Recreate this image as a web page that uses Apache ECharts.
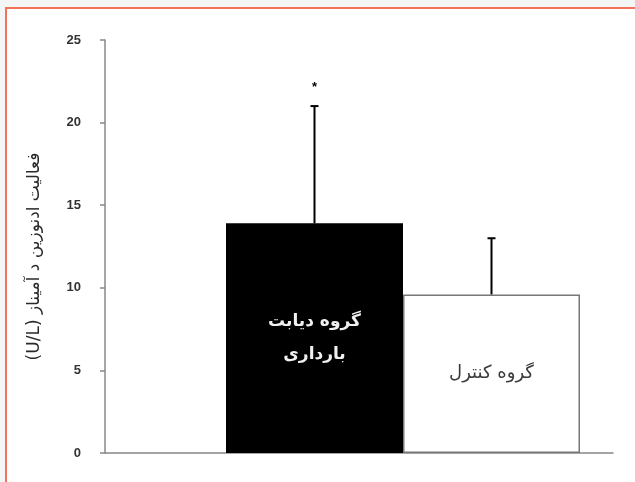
<!DOCTYPE html>
<html>
<head>
<meta charset="utf-8">
<script src="https://cdn.jsdelivr.net/npm/echarts@6/dist/echarts.min.js"></script>
<style>
  body { margin: 0; background: #f4f5f5; }
  #frame { position: absolute; left: 5px; top: 7px; width: 630px; height: 475px;
           background: #fff; border-left: 2px solid #f4715a; border-top: 2px solid #f4715a; z-index: 0; }
  #chart { position: absolute; left: 0; top: 0; width: 635px; height: 482px; z-index: 1; }
</style>
</head>
<body>
<div id="frame"></div>
<div id="chart"></div>
<script>
//داده‌ها
var groups = ['گروه دیابت\nبارداری', 'گروه کنترل'];
var means = [13.9, 9.6];
var sds = [7.1, 3.4];
var sig = ['*', ''];
var yTicks = [0, 5, 10, 15, 20, 25];

var myChart = echarts.init(document.getElementById('chart'));

var fillColors = ['#000', '#fff'];
var labelColors = ['#f0f0f0', '#3a3a3a'];
var labelWeights = ['bold', 'normal'];
var labelSizes = [17, 18];

var barSeries = groups.map(function(name, i){
    return {
        name: name,
        type: 'bar',
        xAxisIndex: 1,
        yAxisIndex: 1,
        barGap: '0%',
        barCategoryGap: '0%',
        data: [means[i]],
        itemStyle: {
            color: fillColors[i],
            borderColor: i == 0 ? '#000' : '#777',
            borderWidth: 1.5
        },
        label: {
            show: true,
            position: 'inside',
            formatter: name,
            color: labelColors[i],
            fontFamily: 'DejaVu Sans',
            fontWeight: labelWeights[i],
            fontSize: labelSizes[i],
            lineHeight: 33
        },
        silent: true
    };
});

//خطای معیار
var errData = means.map(function(m, i){
    return [0, m, sds[i], i];
});

var errSeries = {
    type: 'custom',
    xAxisIndex: 1,
    yAxisIndex: 1,
    encode: {x: 0, y: 1},
    data: errData,
    z: 5,
    renderItem: function(params, api){
        var m = api.value(1);
        var s = api.value(2);
        var i = api.value(3);
        var band = api.size([1, 0])[0];
        var base = api.coord([0, m]);
        var x = base[0] + (i - 0.5) * band / 2;
        var top = api.coord([0, m + s])[1];
        var children = [
            {type: 'line', shape: {x1: x, y1: base[1], x2: x, y2: top}, style: {stroke: '#000', lineWidth: 2}},
            {type: 'line', shape: {x1: x - 4, y1: top, x2: x + 4, y2: top}, style: {stroke: '#000', lineWidth: 2}}
        ];
        if (sig[i]) {
            children.push({type: 'text', x: x, y: top - 19,
                style: {text: sig[i], fill: '#000', font: 'bold 13px Liberation Sans', align: 'center', verticalAlign: 'middle'}});
        }
        return {type: 'group', children: children};
    }
};

var option = {
    animation: false,
    grid: [
        {left: 105, right: 22, top: 40, bottom: 29},
        {left: 226, right: 55, top: 40, bottom: 29}
    ],
    xAxis: [
        {
            type: 'category',
            gridIndex: 0,
            data: [''],
            axisLine: {lineStyle: {color: '#888', width: 1.5}},
            axisTick: {show: false},
            axisLabel: {show: false}
        },
        {
            type: 'category',
            gridIndex: 1,
            data: [''],
            show: false
        }
    ],
    yAxis: [
        {
            type: 'value',
            gridIndex: 0,
            min: yTicks[0],
            max: yTicks[yTicks.length - 1],
            interval: 5,
            splitLine: {show: false},
            axisLine: {show: true, lineStyle: {color: '#888', width: 1.5}},
            axisTick: {show: true, length: 5, lineStyle: {color: '#888', width: 1.5}},
            axisLabel: {margin: 24, color: '#333', fontSize: 13, fontWeight: 'bold', fontFamily: 'Liberation Sans'},
            name: '\u202Bفعالیت ادنوزین د آمیناز (U/L)\u202C',
            nameLocation: 'middle',
            nameRotate: 90,
            nameGap: 62,
            nameTextStyle: {color: '#2a2a2a', fontSize: 17, fontFamily: 'DejaVu Sans', padding: [0, 20, 0, 0]}
        },
        {
            type: 'value',
            gridIndex: 1,
            min: yTicks[0],
            max: yTicks[yTicks.length - 1],
            show: false
        }
    ],
    series: barSeries.concat([errSeries])
};

myChart.setOption(option);
</script>
</body>
</html>
